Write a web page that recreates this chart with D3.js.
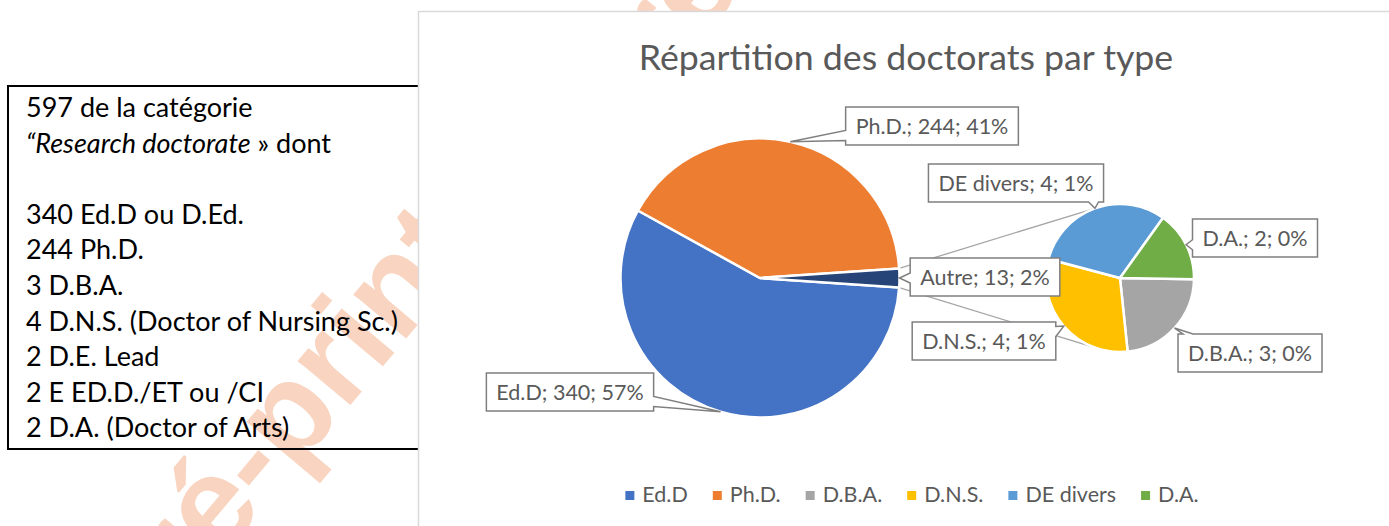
<!DOCTYPE html>
<meta charset="utf-8">
<style>
body { margin: 0; background: #fff; }
text { font-family: Lato, "Open Sans", sans-serif; }
</style>
<body>
<div id="chart"></div>
<script src="https://cdn.jsdelivr.net/npm/d3@7"></script>
<script>
// values
var mainCats = ["Ed.D", "Ph.D.", "Autre"];
var mainVals = [340, 244, 13];
var mainPct = [57, 41, 2];
var subCats = ["D.B.A.", "D.N.S.", "DE divers", "D.A."];
var subVals = [3, 4, 4, 2];
var subPct = [0, 1, 1, 0];
var legendCats = ["Ed.D", "Ph.D.", "D.B.A.", "D.N.S.", "DE divers", "D.A."];
var boxLines = [
  "597 de la catégorie",
  "Research doctorate",
  "",
  "340 Ed.D ou D.Ed.",
  "244 Ph.D.",
  "3 D.B.A.",
  "4 D.N.S. (Doctor of Nursing Sc.)",
  "2 D.E. Lead",
  "2 E ED.D./ET ou /CI",
  "2 D.A. (Doctor of Arts)"
];

var colors = {
  "Ed.D": "#4472c4", "Ph.D.": "#ed7d31", "Autre": "#264478",
  "D.B.A.": "#a5a5a5", "D.N.S.": "#ffc000", "DE divers": "#5b9bd5", "D.A.": "#70ad47"
};

// where the callout boxes sit (centre x, centre y)
var labelPos = {
  "Ed.D": [570, 392], "Ph.D.": [932, 126], "Autre": [985, 277],
  "D.B.A.": [1250, 353], "D.N.S.": [984, 341], "DE divers": [1016, 183], "D.A.": [1255, 238]
};

var W = 1389, H = 526;
var svg = d3.select("#chart").append("svg")
    .attr("width", W)
    .attr("height", H);

svg.append("rect").attr("width", W).attr("height", H).attr("fill", "#fff");

// watermark
[[305, 459], [785, -61]].forEach(function(p) {
  svg.append("text")
      .attr("transform", "translate(" + p[0] + "," + p[1] + ") rotate(-50)")
      .attr("text-anchor", "middle")
      .style("font-family", "'Liberation Sans', Arial, sans-serif")
      .style("font-weight", "bold")
      .style("font-size", "130px")
      .attr("fill", "#f9d5c1")
      .text("Pré-print");
});

// text box on the left
svg.append("rect")
    .attr("x", 8).attr("y", 86)
    .attr("width", 430).attr("height", 363)
    .attr("fill", "none")
    .attr("stroke", "#000")
    .attr("stroke-width", 2);

var boxText = svg.append("g").style("font-size", "27px").attr("fill", "#000");
boxLines.forEach(function(line, i) {
  var t = boxText.append("text").attr("x", 26).attr("y", 117 + i * 35.6);
  if (i === 1) {
    t.append("tspan").style("font-style", "italic").text("\u201C" + line);
    t.append("tspan").text(" \u00BB dont");
  } else {
    t.text(line);
  }
});

// chart area
svg.append("rect")
    .attr("x", 418.5).attr("y", 11.5)
    .attr("width", 1100).attr("height", 600)
    .attr("fill", "#fff")
    .attr("stroke", "#d9d9d9")
    .attr("stroke-width", 1.5);

svg.append("text")
    .attr("x", 906).attr("y", 70)
    .attr("text-anchor", "middle")
    .style("font-size", "35.7px")
    .attr("fill", "#595959")
    .text("Répartition des doctorats par type");

var total = d3.sum(mainVals);
var mainC = [760, 278], mainR = 139.5;
var subC = [1120, 278], subR = 74;

// main pie: "Autre" centred on the right side
var half = Math.PI * mainVals[2] / total;
var pieMain = d3.pie().sort(null)
    .startAngle(Math.PI / 2 + half)
    .endAngle(Math.PI / 2 + half + 2 * Math.PI);
var mainData = pieMain(mainVals).map(function(d, i) {
  d.cat = mainCats[i]; d.pct = mainPct[i]; d.val = mainVals[i]; return d;
});

var subStart = 91 * Math.PI / 180;
var pieSub = d3.pie().sort(null)
    .startAngle(subStart)
    .endAngle(subStart + 2 * Math.PI);
var subData = pieSub(subVals).map(function(d, i) {
  d.cat = subCats[i]; d.pct = subPct[i]; d.val = subVals[i]; return d;
});

// series lines from "Autre" to the second pie (tangents)
var autre = mainData[2];
function pt(c, a, r) { var p = d3.pointRadial(a, r); return [c[0] + p[0], c[1] + p[1]]; }
var pA = pt(mainC, autre.startAngle, mainR), pB = pt(mainC, autre.endAngle, mainR);
function tangent(p, up) {
  var dx = subC[0] - p[0], dy = subC[1] - p[1];
  var d = Math.sqrt(dx * dx + dy * dy);
  var base = Math.atan2(-dx, dy); // radial angle from subC towards p
  var a = base + (up ? 1 : -1) * Math.acos(subR / d);
  return pt(subC, a, subR);
}
[[pA, tangent(pA, true)], [pB, tangent(pB, false)]].forEach(function(l) {
  svg.append("line")
      .attr("x1", l[0][0]).attr("y1", l[0][1])
      .attr("x2", l[1][0]).attr("y2", l[1][1])
      .attr("stroke", "#a6a6a6")
      .attr("stroke-width", 1.3);
});

var arcMain = d3.arc().innerRadius(0).outerRadius(mainR);
var arcSub = d3.arc().innerRadius(0).outerRadius(subR);

svg.append("g")
    .attr("transform", "translate(" + mainC + ")")
  .selectAll("path")
  .data(mainData)
  .enter().append("path")
    .attr("d", arcMain)
    .attr("fill", function(d) { return colors[d.cat]; })
    .attr("stroke", "#fff")
    .attr("stroke-width", 2.5);

svg.append("g")
    .attr("transform", "translate(" + subC + ")")
  .selectAll("path")
  .data(subData)
  .enter().append("path")
    .attr("d", arcSub)
    .attr("fill", function(d) { return colors[d.cat]; })
    .attr("stroke", "#fff")
    .attr("stroke-width", 2.5);

// callout labels
function clamp(v, a, b) { return Math.max(a, Math.min(b, v)); }
function callout(cx, cy, w, h, tx, ty) {
  var x0 = cx - w / 2, x1 = cx + w / 2, y0 = cy - h / 2, y1 = cy + h / 2, b = 5, c;
  var ox = tx < x0 ? x0 - tx : (tx > x1 ? tx - x1 : 0);
  var oy = ty < y0 ? y0 - ty : (ty > y1 ? ty - y1 : 0);
  if (ox === 0 && oy === 0) return "M" + x0 + "," + y0 + "H" + x1 + "V" + y1 + "H" + x0 + "Z";
  if (ox >= oy) {
    c = clamp(ty, y0 + h * 0.25, y1 - h * 0.25);
    if (tx < x0) return "M" + x0 + "," + y0 + "H" + x1 + "V" + y1 + "H" + x0 + "V" + (c + b) + "L" + tx + "," + ty + "L" + x0 + "," + (c - b) + "Z";
    return "M" + x0 + "," + y0 + "H" + x1 + "V" + (c - b) + "L" + tx + "," + ty + "L" + x1 + "," + (c + b) + "V" + y1 + "H" + x0 + "Z";
  }
  c = clamp(tx, x0 + 10, x1 - 10);
  if (ty < y0) return "M" + x0 + "," + y0 + "H" + (c - b) + "L" + tx + "," + ty + "L" + (c + b) + "," + y0 + "H" + x1 + "V" + y1 + "H" + x0 + "Z";
  return "M" + x0 + "," + y0 + "H" + x1 + "V" + y1 + "H" + (c + b) + "L" + tx + "," + ty + "L" + (c - b) + "," + y1 + "H" + x0 + "Z";
}

var labels = svg.append("g");
function addLabel(d, c, r) {
  var mid = (d.startAngle + d.endAngle) / 2;
  var target = pt(c, mid, r);
  var pos = labelPos[d.cat];
  var g = labels.append("g");
  var path = g.append("path");
  var t = g.append("text")
      .attr("x", pos[0]).attr("y", pos[1] + 7.5)
      .attr("text-anchor", "middle")
      .style("font-size", "21.5px")
      .attr("fill", "#595959")
      .text(d.cat + "; " + d.val + "; " + d.pct + "%");
  var w = t.node().getComputedTextLength() + 20;
  path.attr("d", callout(pos[0], pos[1], w, 38, target[0], target[1]))
      .attr("fill", "#fff")
      .attr("stroke", "#7f7f7f")
      .attr("stroke-width", 1.5);
}
mainData.forEach(function(d) { addLabel(d, mainC, mainR); });
subData.forEach(function(d) { addLabel(d, subC, subR); });

// legend
var legend = svg.append("g");
var lx = 0;
legendCats.forEach(function(cat) {
  var item = legend.append("g").attr("transform", "translate(" + lx + ",0)");
  item.append("rect")
      .attr("x", 0).attr("y", -11)
      .attr("width", 9).attr("height", 9)
      .attr("fill", colors[cat]);
  var t = item.append("text")
      .attr("x", 17).attr("y", 0)
      .style("font-size", "21.5px")
      .attr("fill", "#595959")
      .text(cat);
  lx += 17 + t.node().getComputedTextLength() + 25;
});
legend.attr("transform", "translate(" + (912 - (lx - 25) / 2) + ",502)");
</script>
</body>
